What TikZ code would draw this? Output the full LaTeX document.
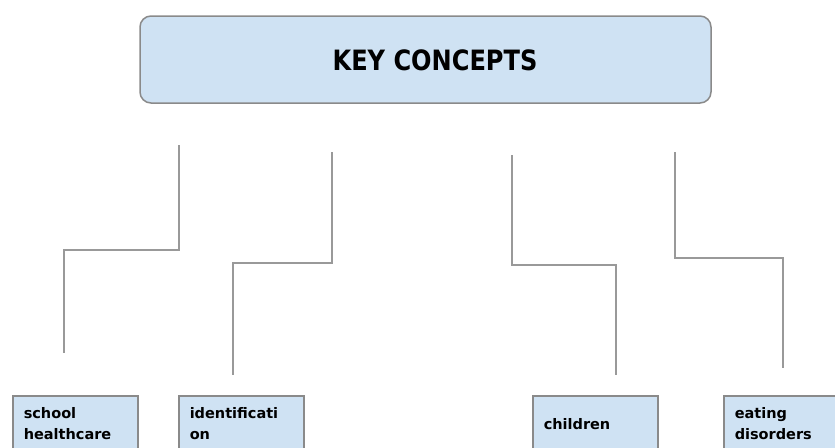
\documentclass[tikz,border=0pt]{standalone}
\usepackage{fontspec}
\setmainfont{DejaVu Sans}
\newfontfamily\titlefont{DejaVu Sans}[FakeStretch=0.86]
\definecolor{boxfill}{HTML}{CFE2F3}
\definecolor{boxline}{HTML}{8A8A8A}
\definecolor{conline}{HTML}{999999}
\tikzset{
  topbox/.style={draw=boxline, line width=1.5pt, fill=boxfill, rounded corners=11pt,
    minimum width=571pt, minimum height=87pt, inner sep=0pt},
  leafbox/.style={draw=boxline, line width=1.5pt, fill=boxfill, anchor=north west,
    minimum width=125pt, minimum height=56pt, text width=103pt, inner xsep=11pt, inner ysep=0pt,
    align=left, font=\fontsize{14.5}{21}\selectfont\bfseries},
  connector/.style={draw=conline, line width=2pt},
  titletext/.style={font=\titlefont\bfseries\fontsize{28}{32}\selectfont, inner sep=0pt}
}
\begin{document}
\begin{tikzpicture}[x=1pt,y=-1pt]
\useasboundingbox (0,0) rectangle (835,447);
\clip (0,0) rectangle (835,447);
% top box
\node[topbox] (top) at (425.5,59.5) {};
\node[titletext] (toptitle) at (435,60) {KEY CONCEPTS};
% leaf boxes
\node[leafbox] (school) at (12,395) {school\\healthcare};
\node[leafbox] (ident) at (178,395) {identificati\\on};
\node[leafbox] (child) at (532,395) {children};
\node[leafbox] (eat) at (723,395) {eating\\disorders};
% connector ends
\coordinate (t1) at (179,145); \coordinate (h1) at (64,250); \coordinate (b1) at (64,353);
\coordinate (t2) at (332,152); \coordinate (h2) at (233,263); \coordinate (b2) at (233,375);
\coordinate (t3) at (512,155); \coordinate (h3) at (616,265); \coordinate (b3) at (616,375);
\coordinate (t4) at (675,152); \coordinate (h4) at (783,258); \coordinate (b4) at (783,368);
% connectors
\draw[connector] (t1) |- (h1) -- (b1);
\draw[connector] (t2) |- (h2) -- (b2);
\draw[connector] (t3) |- (h3) -- (b3);
\draw[connector] (t4) |- (h4) -- (b4);
\end{tikzpicture}
\end{document}
